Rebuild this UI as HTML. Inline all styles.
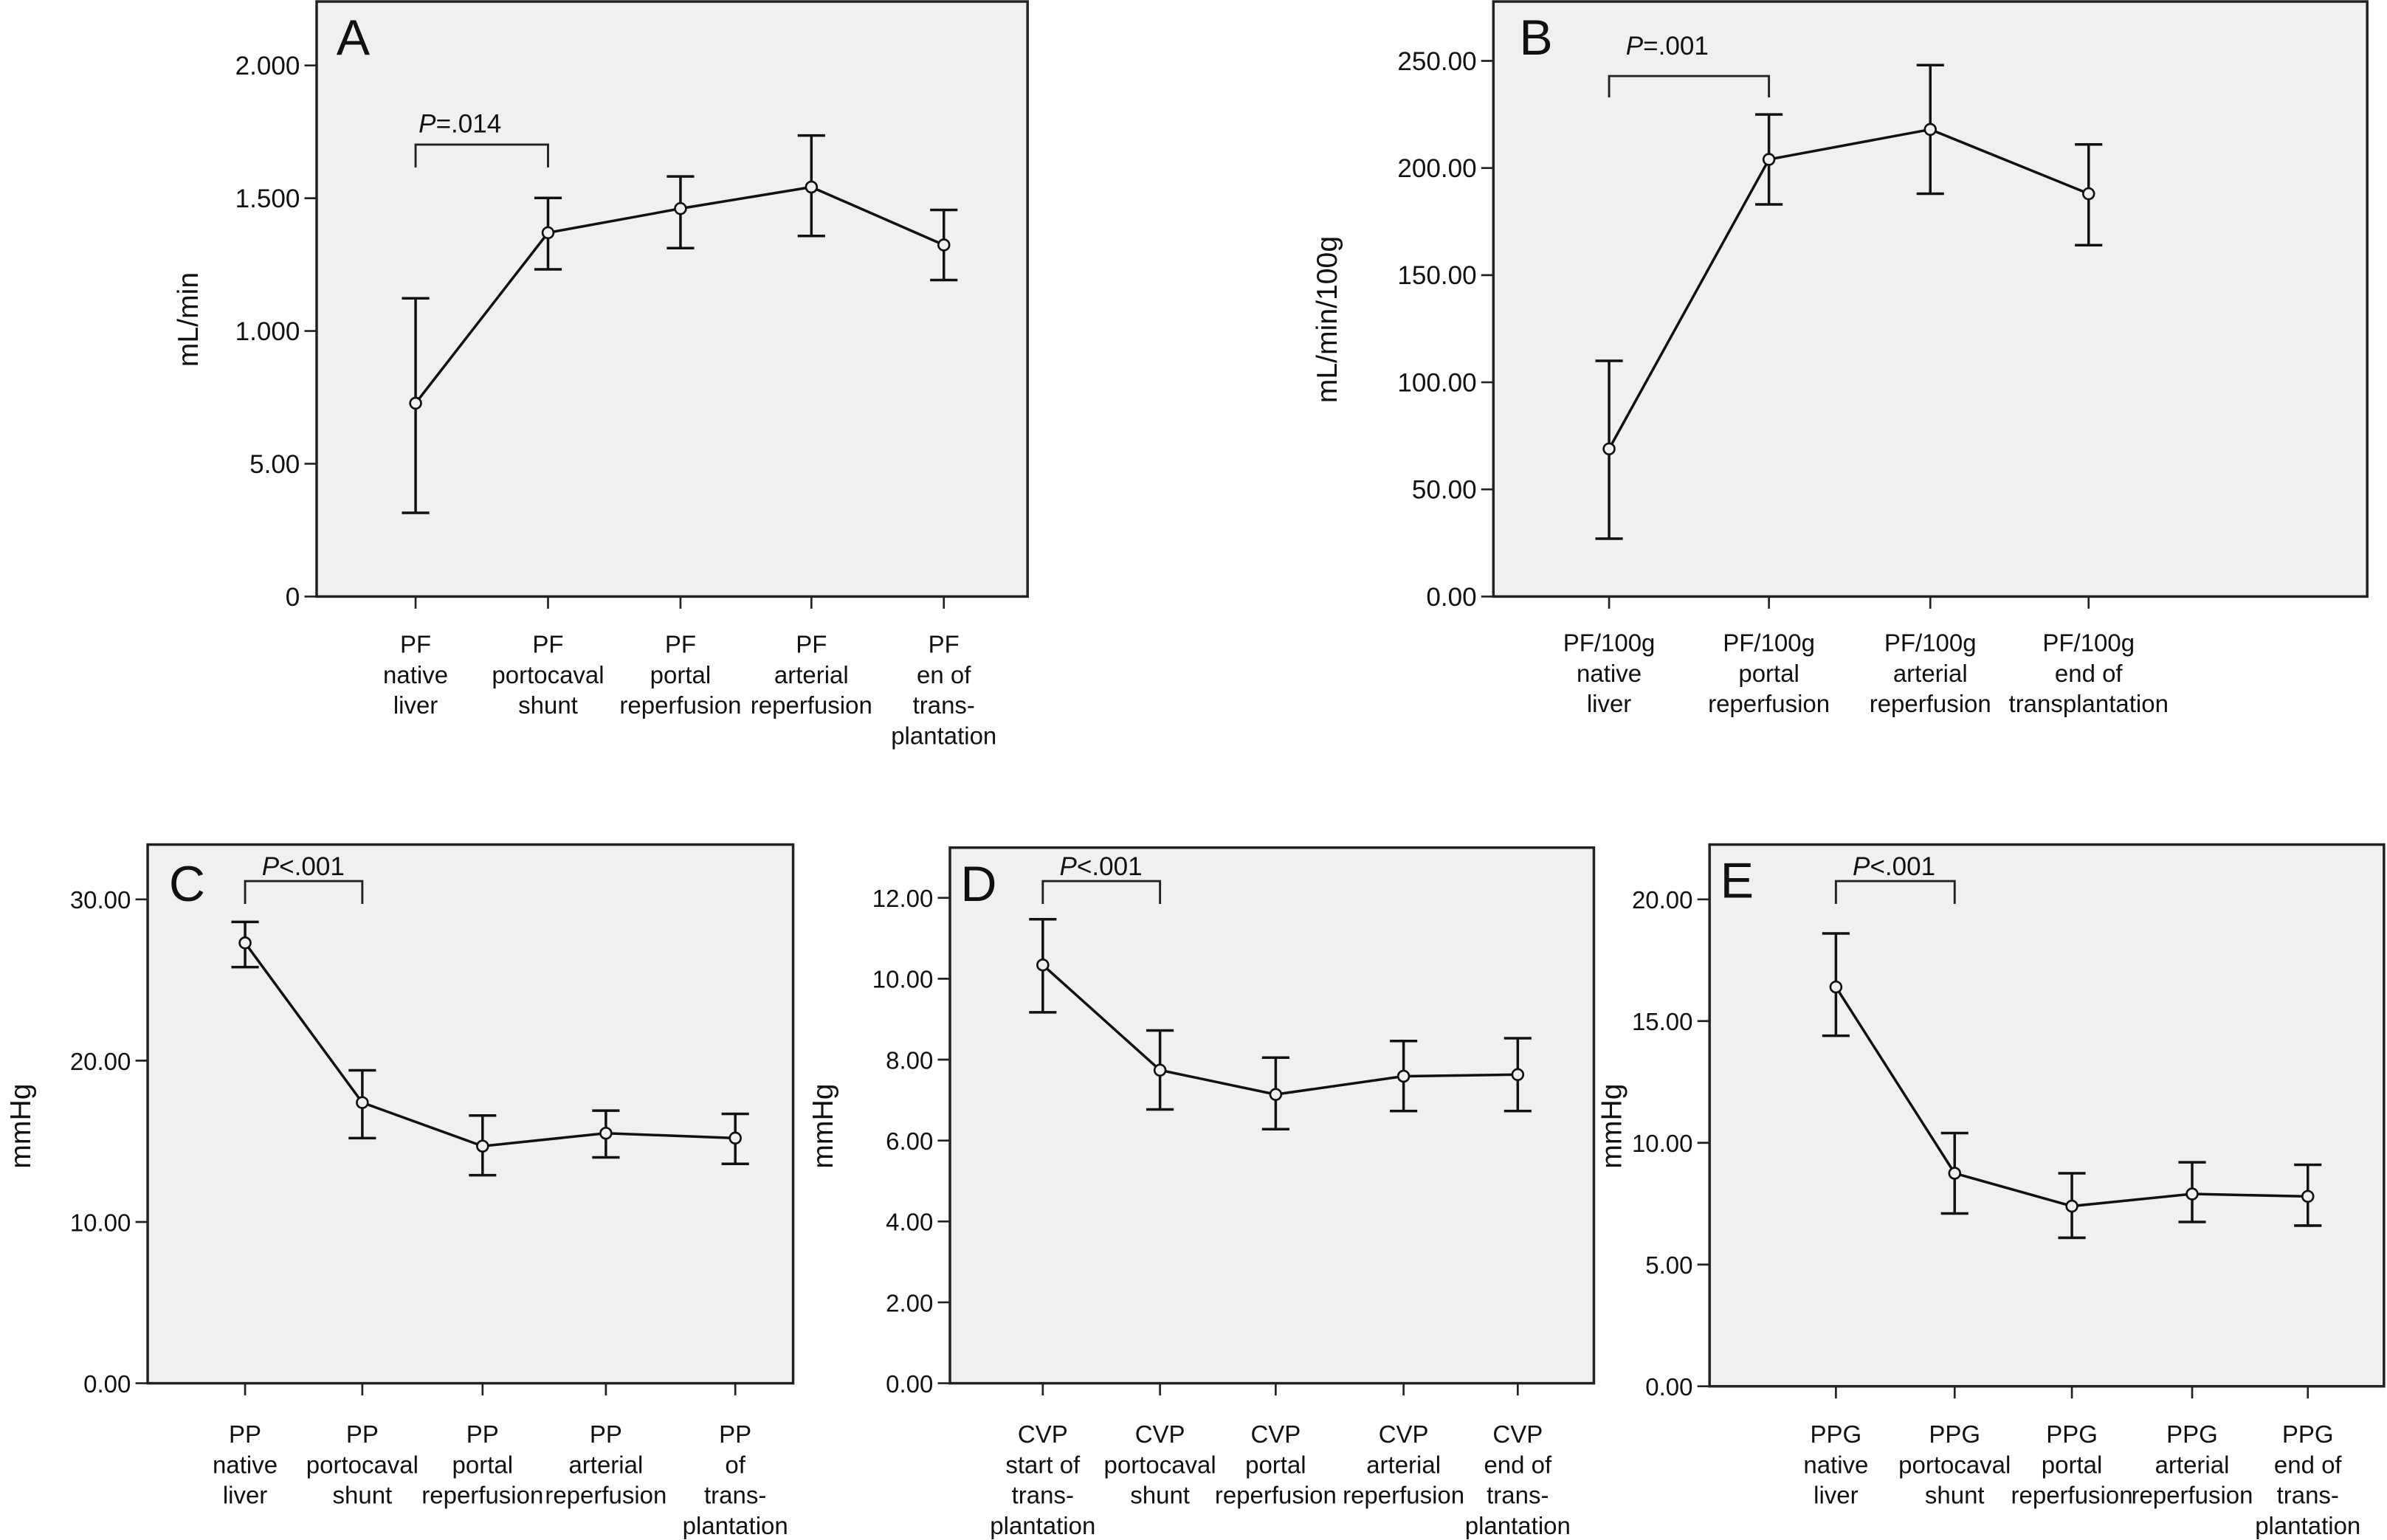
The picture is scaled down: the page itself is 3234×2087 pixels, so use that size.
<!DOCTYPE html>
<html><head><meta charset="utf-8"><style>
html,body{margin:0;padding:0;background:#fff;}
svg{display:block;}
text{font-family:"Liberation Sans",sans-serif;fill:#111;}
</style></head>
<body>
<svg id="fig" xmlns="http://www.w3.org/2000/svg" width="3234" height="2087" viewBox="0 0 1568 1012" preserveAspectRatio="none"></svg>
<script>
// Panel A data
const aCats = [["PF","native","liver"],["PF","portocaval","shunt"],["PF","portal","reperfusion"],["PF","arterial","reperfusion"],["PF","en of","trans-","plantation"]];
const aMean = [728,1370,1461,1542,1324];
const aLo = [315,1232,1312,1358,1192];
const aHi = [1123,1501,1582,1736,1456];
const aTicks = [0,500,1000,1500,2000];
const aTickLabels = ["0","5.00","1.000","1.500","2.000"];
// Panel B data
const bCats = [["PF/100g","native","liver"],["PF/100g","portal","reperfusion"],["PF/100g","arterial","reperfusion"],["PF/100g","end of","transplantation"]];
const bMean = [68.9,204,218,188];
const bLo = [27,183,188,164];
const bHi = [110,225,248,211];
const bTicks = [0,50,100,150,200,250];
const bTickLabels = ["0.00","50.00","100.00","150.00","200.00","250.00"];
// Panel C data
const cCats = [["PP","native","liver"],["PP","portocaval","shunt"],["PP","portal","reperfusion"],["PP","arterial","reperfusion"],["PP","of","trans-","plantation"]];
const cMean = [27.3,17.4,14.7,15.5,15.2];
const cLo = [25.8,15.2,12.9,14.0,13.6];
const cHi = [28.6,19.4,16.6,16.9,16.7];
const cTicks = [0,10,20,30];
const cTickLabels = ["0.00","10.00","20.00","30.00"];
// Panel D data
const dCats = [["CVP","start of","trans-","plantation"],["CVP","portocaval","shunt"],["CVP","portal","reperfusion"],["CVP","arterial","reperfusion"],["CVP","end of","trans-","plantation"]];
const dMean = [10.34,7.74,7.14,7.59,7.63];
const dLo = [9.17,6.77,6.28,6.73,6.73];
const dHi = [11.47,8.72,8.05,8.46,8.53];
const dTicks = [0,2,4,6,8,10,12];
const dTickLabels = ["0.00","2.00","4.00","6.00","8.00","10.00","12.00"];
// Panel E data
const eCats = [["PPG","native","liver"],["PPG","portocaval","shunt"],["PPG","portal","reperfusion"],["PPG","arterial","reperfusion"],["PPG","end of","trans-","plantation"]];
const eMean = [16.4,8.75,7.4,7.9,7.8];
const eLo = [14.4,7.1,6.1,6.75,6.6];
const eHi = [18.6,10.4,8.75,9.2,9.1];
const eTicks = [0,5,10,15,20];
const eTickLabels = ["0.00","5.00","10.00","15.00","20.00"];

const NS = "http://www.w3.org/2000/svg";
const svg = document.getElementById('fig');
function mk(tag, attrs, parent){const e=document.createElementNS(NS,tag);for(const k in attrs)e.setAttribute(k,attrs[k]);(parent||svg).appendChild(e);return e;}

const layouts = [
 {id:'a',letter:'A',title:'mL/min',cats:aCats,mean:aMean,lo:aLo,hi:aHi,ticks:aTicks,tl:aTickLabels,fs:17,
  box:[208,1,675,392],y0:392,y1:43,v1:2000,xs:[273,360,447,533,620],pText:'=.014',pY:87,brY:95,brB:110,lblY:429,titleX:130,titleY:210,letX:221,letY:36},
 {id:'b',letter:'B',title:'mL/min/100g',cats:bCats,mean:bMean,lo:bLo,hi:bHi,ticks:bTicks,tl:bTickLabels,fs:17,
  box:[981,1,1555,392],y0:392,y1:40,v1:250,xs:[1057,1162,1268,1372],pText:'=.001',pY:36,brY:50,brB:64,lblY:428,titleX:878,titleY:210,letX:998,letY:36},
 {id:'c',letter:'C',title:'mmHg',cats:cCats,mean:cMean,lo:cLo,hi:cHi,ticks:cTicks,tl:cTickLabels,fs:16,
  box:[97,555,521,909],y0:909,y1:591,v1:30,xs:[161,238,317,398,483],pText:'<.001',pY:575,brY:579,brB:594,lblY:948,titleX:20,titleY:740,letX:111,letY:592},
 {id:'d',letter:'D',title:'mmHg',cats:dCats,mean:dMean,lo:dLo,hi:dHi,ticks:dTicks,tl:dTickLabels,fs:16,
  box:[624,557,1047,909],y0:909,y1:590,v1:12,xs:[685,762,838,922,997],pText:'<.001',pY:575,brY:579,brB:594,lblY:948,titleX:547,titleY:740,letX:631,letY:592},
 {id:'e',letter:'E',title:'mmHg',cats:eCats,mean:eMean,lo:eLo,hi:eHi,ticks:eTicks,tl:eTickLabels,fs:16,
  box:[1123,555,1566,911],y0:911,y1:591,v1:20,xs:[1206,1284,1361,1440,1516],pText:'<.001',pY:575,brY:579,brB:594,lblY:948,titleX:1065,titleY:740,letX:1130,letY:590}
];

layouts.forEach(p=>{
  const g = mk('g',{});
  
  
  const [x0,y0b,x1,y1b]=p.box;
  const yS = v => p.y0 - (v/p.v1)*(p.y0-p.y1);
  const bg = mk('rect',{x:x0,y:y0b,width:x1-x0,height:y1b-y0b,fill:'#f0f0f0',stroke:'#222','stroke-width':1.7},g);
  
  
  p.ticks.forEach((t,i)=>{
    const y=yS(t);
    mk('line',{x1:x0-8,y1:y,x2:x0,y2:y,stroke:'#222','stroke-width':1.3},g);
    const tx=mk('text',{x:x0-11,y:y+6,'text-anchor':'end','font-size':p.fs},g);
    tx.textContent=p.tl[i];
    
    
  });
  p.xs.forEach((x,i)=>{
    mk('line',{x1:x,y1:y1b,x2:x,y2:y1b+8,stroke:'#222','stroke-width':1.3},g);
    const lines=p.cats[i];
    const tx=mk('text',{x:x,y:p.lblY,'text-anchor':'middle','font-size':16},g);
    
    
    lines.forEach((l,j)=>{const ts=mk('tspan',{x:x,dy:j?20:0},tx);ts.textContent=l;});
  });
  const yt=mk('text',{x:p.titleX,y:p.titleY,'text-anchor':'middle','font-size':19,transform:`rotate(-90 ${p.titleX} ${p.titleY})`},g);
  yt.textContent=p.title;
  
  
  const lt=mk('text',{x:p.letX,y:p.letY,'font-size':33},g);
  lt.textContent=p.letter;
  
  
  const bx0=p.xs[0], bx1=p.xs[1];
  const br=mk('path',{d:`M${bx0} ${p.brB} V${p.brY} H${bx1} V${p.brB}`,fill:'none',stroke:'#222','stroke-width':1.4},g);
  
  
  const pt=mk('text',{x:bx0+(p.id==='a'?2:11),y:p.pY,'font-size':17},g);
  
  
  const pi=mk('tspan',{'font-style':'italic'},pt);pi.textContent='P';
  const pr=mk('tspan',{},pt);pr.textContent=p.pText;
  const pts=p.mean.map((v,i)=>p.xs[i]+','+yS(v)).join(' ');
  const pl=mk('polyline',{points:pts,fill:'none',stroke:'#111','stroke-width':1.7},g);
  
  
  p.mean.forEach((v,i)=>{
    const x=p.xs[i];
    const eb=mk('path',{d:`M${x-9} ${yS(p.hi[i])} H${x+9} M${x} ${yS(p.hi[i])} V${yS(p.lo[i])} M${x-9} ${yS(p.lo[i])} H${x+9}`,fill:'none',stroke:'#111','stroke-width':1.7},g);
    
    
    const c=mk('circle',{cx:x,cy:yS(v),r:3.6,fill:'#f0f0f0',stroke:'#111','stroke-width':1.3},g);
    
    
  });
});
</script>
</body></html>
